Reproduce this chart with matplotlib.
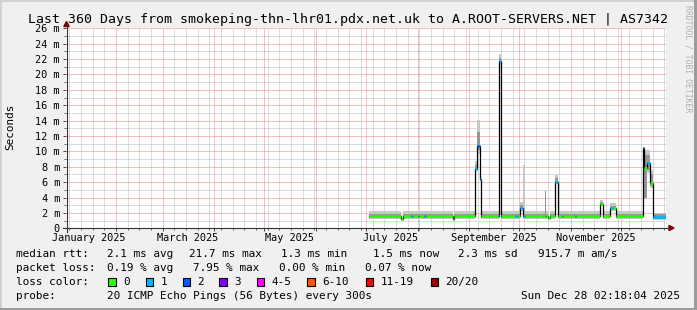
from datetime import datetime
import numpy as np
import matplotlib
matplotlib.use('Agg')
import matplotlib.pyplot as plt
import matplotlib.dates as mdates
from matplotlib.ticker import MultipleLocator, FuncFormatter
from matplotlib.patches import Rectangle, Polygon
from matplotlib.lines import Line2D

plt.rcParams['font.family'] = ['DejaVu Sans Mono']

# --- data (days since 2025-01-01, values in ms) ---
seg_edges = [183, 202, 203, 208, 209, 212, 213, 216, 217, 233, 234, 246.5, 247.5,
             249.3, 250, 260, 261, 262, 270.5, 272, 273.5, 275, 276.5, 288.5, 289,
             290.5, 291.5, 294.5, 296, 298.5, 299.5, 306.5, 307, 321.5, 323, 327.5,
             329, 331, 347, 348, 349.5, 351.5, 353, 361]
median_ms = [1.55, 1.25, 1.55, 1.65, 1.55, 1.55, 1.55, 1.55, 1.55, 1.25, 1.55, 7.7,
             10.7, 6.4, 1.55, 1.55, 21.7, 1.55, 1.55, 1.55, 2.7, 1.55, 1.55, 1.55,
             1.55, 1.3, 1.55, 6.06, 1.55, 1.55, 1.55, 1.55, 1.55, 3.15, 1.55, 2.6,
             2.6, 1.55, 10.5, 7.9, 8.45, 5.85, 1.43]
loss = [0, 0, 0, 1, 0, 1, 0, 1, 0, 0, 0, 1, 2, 1, 0, 1, 1, 0, 1, 0, 1, 1, 0, 0, 0,
        0, 0, 1, 0, 1, 0, 1, 0, 0, 0, 1, 0, 0, 2, 0, 1, 0, 1]
smoke_lo = [1.15, 1.20, 1.15, 1.15, 1.15, 1.15, 1.15, 1.15, 1.15, 1.20, 1.15, 7.4,
            9.6, 6.1, 1.15, 1.15, 21.4, 1.15, 1.15, 1.15, 2.3, 1.15, 1.15, 1.15,
            1.15, 1.2, 1.15, 5.8, 1.15, 1.15, 1.15, 1.15, 1.15, 2.9, 1.15, 2.3, 2.3,
            1.15, 3.3, 3.8, 7.2, 5.3, 1.05]
smoke_hi = [2.25, 1.32, 2.25, 2.3, 2.25, 2.25, 2.25, 2.25, 2.25, 1.32, 2.25, 8.8,
            14.1, 7.1, 2.25, 2.25, 22.7, 2.25, 2.25, 2.25, 3.4, 8.2, 2.25, 4.85,
            2.25, 1.4, 2.25, 6.9, 2.25, 2.25, 2.25, 2.25, 2.25, 3.7, 2.25, 3.25,
            3.25, 2.25, 10.6, 10.2, 10.2, 7.6, 2.05]
core_lo = [1.35, 1.22, 1.35, 1.4, 1.35, 1.35, 1.35, 1.35, 1.35, 1.22, 1.35, 7.5,
           10.2, 6.2, 1.35, 1.35, 21.5, 1.35, 1.35, 1.35, 2.5, 1.35, 1.35, 1.35,
           1.35, 1.25, 1.35, 5.95, 1.35, 1.35, 1.35, 1.35, 1.35, 3.05, 1.35, 2.45,
           2.45, 1.35, 3.6, 4.0, 7.6, 5.5, 1.25]
core_hi = [1.85, 1.30, 1.85, 1.9, 1.85, 1.85, 1.85, 1.85, 1.85, 1.30, 1.85, 8.2,
           12.5, 6.8, 1.85, 1.85, 22.2, 1.85, 1.85, 1.85, 3.0, 1.85, 1.85, 4.85,
           1.85, 1.35, 1.85, 6.5, 1.85, 1.85, 1.85, 1.85, 1.85, 3.4, 1.85, 2.9,
           2.9, 1.85, 10.5, 9.5, 9.5, 7.0, 1.8]

loss_labels = ["0", "1", "2", "3", "4-5", "6-10", "11-19", "20/20"]
loss_colors = ["#26ff00", "#00b8ff", "#0059ff", "#7e00ff", "#ff00ff", "#ff5500",
               "#ff0000", "#a10000"]

month_labels = ["January 2025", "March 2025", "May 2025", "July 2025",
                "September 2025", "November 2025"]
month_label_months = [1, 3, 5, 7, 9, 11]

rtt_stats = ["2.1 ms avg", "21.7 ms max", "1.3 ms min", "1.5 ms now", "2.3 ms sd",
             "915.7 m am/s"]
loss_stats = ["0.19 % avg", "7.95 % max", "0.00 % min", "0.07 % now"]

title = "Last 360 Days from smokeping-thn-lhr01.pdx.net.uk to A.ROOT-SERVERS.NET | AS7342"
probe_text = "20 ICMP Echo Pings (56 Bytes) every 300s"
stamp = "Sun Dec 28 02:18:04 2025"

t_start = datetime(2025, 1, 2, 2, 18, 4)
t_end = datetime(2025, 12, 28, 2, 18, 4)

# --- layout helpers (pixel -> figure fraction) ---
W, H = 697, 310
def fx(x):
    return x / W
def fy(y):
    return 1 - y / H

fig = plt.figure(figsize=(W / 100, H / 100), dpi=100)
fig.patch.set_facecolor('#f0f0f0')
ax = fig.add_axes([fx(66), fy(228.3), 600 / W, 200 / H])
ax.set_facecolor('white')

base = mdates.date2num(datetime(2025, 1, 1))
edges = base + np.array(seg_edges)

ax.set_xlim(mdates.date2num(t_start), mdates.date2num(t_end))
ax.set_ylim(0, 26)

ax.xaxis.set_major_locator(mdates.MonthLocator())
ax.xaxis.set_minor_locator(mdates.WeekdayLocator(byweekday=mdates.SA))
ax.xaxis.set_major_formatter(FuncFormatter(lambda v, p: ""))
ax.yaxis.set_major_locator(MultipleLocator(2))
ax.yaxis.set_minor_locator(MultipleLocator(1))
ax.yaxis.set_major_formatter(FuncFormatter(lambda v, p: "0" if v == 0 else f"{v:g} m"))

# grid: minor via the axis, major drawn on top of it
ax.set_axisbelow(True)
ax.grid(which='minor', color='#b8b8b8', ls=(0, (1, 1)), lw=0.72, snap=True)
grid_kw = dict(colors='#ee8080', linestyles=[(0, (1, 1))], lw=0.72, snap=True, zorder=0.8)
ax.vlines(ax.xaxis.get_majorticklocs(), 0, 26, **grid_kw)
ax.hlines(ax.yaxis.get_majorticklocs()[1:], ax.get_xlim()[0], ax.get_xlim()[1], **grid_kw)

# smoke
ax.stairs(smoke_hi, edges, baseline=smoke_lo, fill=True, color='#c8c8c8', lw=0, zorder=2)
ax.stairs(core_hi, edges, baseline=core_lo, fill=True, color='#979797', lw=0, zorder=2)
# median: black connectors + loss coloured steps
ax.stairs(median_ms, edges, baseline=None, color='black', lw=0.9, zorder=3)
ax.hlines(median_ms, edges[:-1], edges[1:], colors=[loss_colors[l] for l in loss],
          lw=2, zorder=4)

ax.set_xlim(mdates.date2num(t_start), mdates.date2num(t_end))
ax.set_ylim(0, 26)

ax.tick_params(which='major', length=2.2, width=0.7, color='#444444', pad=2.2,
               labelsize=7.4)
ax.tick_params(which='minor', length=1.4, width=0.7, color='#666666')
for s in ax.spines.values():
    s.set_visible(False)

for m, lab in zip(month_label_months, month_labels):
    ax.text(mdates.date2num(datetime(2025, m, 16)), -0.048, lab,
            transform=ax.get_xaxis_transform(), ha='center', va='center', fontsize=7.4)

# axes lines with arrows
ax_col = '#333333'
arrow_col = '#800000'
fig.add_artist(Line2D([fx(66.5), fx(66.5)], [fy(231.5), fy(25)], color=ax_col, lw=0.8))
fig.add_artist(Line2D([fx(62.5), fx(670)], [fy(228), fy(228)], color=ax_col, lw=0.8))
fig.add_artist(Polygon([[fx(63.8), fy(26.5)], [fx(69.2), fy(26.5)], [fx(66.5), fy(21.5)]],
                       closed=True, color=arrow_col, transform=fig.transFigure))
fig.add_artist(Polygon([[fx(669), fy(225.4)], [fx(669), fy(230.6)], [fx(674), fy(228)]],
                       closed=True, color=arrow_col, transform=fig.transFigure))

# title / labels
fig.text(fx(347.5), fy(19.3), title, ha='center', va='center', fontsize=9.5)
fig.text(fx(10), fy(127), "Seconds", rotation=90, ha='center', va='center', fontsize=7.9)
fig.text(fx(688), fy(59), "RRDTOOL / TOBI OETIKER", rotation=270, ha='center',
         va='center', fontsize=5.9, color='#b0b0b0')

# legend block
lf = 7.9
row_y = [254.3, 268.3, 282.4, 296.2]
fig.text(fx(16), fy(row_y[0]), "median rtt:", va='center', fontsize=lf)
for x, s in zip([107.3, 189, 281, 372.7, 458.3, 537.7], rtt_stats):
    fig.text(fx(x), fy(row_y[0]), s, va='center', fontsize=lf)
fig.text(fx(16), fy(row_y[1]), "packet loss:", va='center', fontsize=lf)
for x, s in zip([107.3, 193.3, 279.3, 365], loss_stats):
    fig.text(fx(x), fy(row_y[1]), s, va='center', fontsize=lf)
fig.text(fx(16), fy(row_y[2]), "loss color:", va='center', fontsize=lf)
for x, lab, col in zip([108.3, 145.7, 182.7, 219.3, 256.7, 307.3, 365.7, 430.7],
                       loss_labels, loss_colors):
    fig.add_artist(Rectangle((fx(x), fy(row_y[2] + 4)), 7.5 / W, 8 / H, facecolor=col,
                             edgecolor='black', lw=0.8, transform=fig.transFigure))
    fig.text(fx(x + 14.5), fy(row_y[2]), lab, va='center', fontsize=lf)
fig.text(fx(16), fy(row_y[3]), "probe:", va='center', fontsize=lf)
fig.text(fx(107.3), fy(row_y[3]), probe_text, va='center', fontsize=lf)
fig.text(fx(680), fy(row_y[3]), stamp, va='center', ha='right', fontsize=lf)

# 3d-ish frame
fig.add_artist(Rectangle((0, fy(2)), 1, 2 / H, color='#d2d2d2', lw=0, transform=fig.transFigure))
fig.add_artist(Rectangle((0, 0), 2 / W, 1, color='#d2d2d2', lw=0, transform=fig.transFigure))
fig.add_artist(Rectangle((0, 0), 1, 2 / H, color='#9c9c9c', lw=0, transform=fig.transFigure))
fig.add_artist(Rectangle((fx(694), 0), 3 / W, 1, color='#9c9c9c', lw=0, transform=fig.transFigure))

fig.savefig('out.png', dpi=100, facecolor=fig.get_facecolor())
